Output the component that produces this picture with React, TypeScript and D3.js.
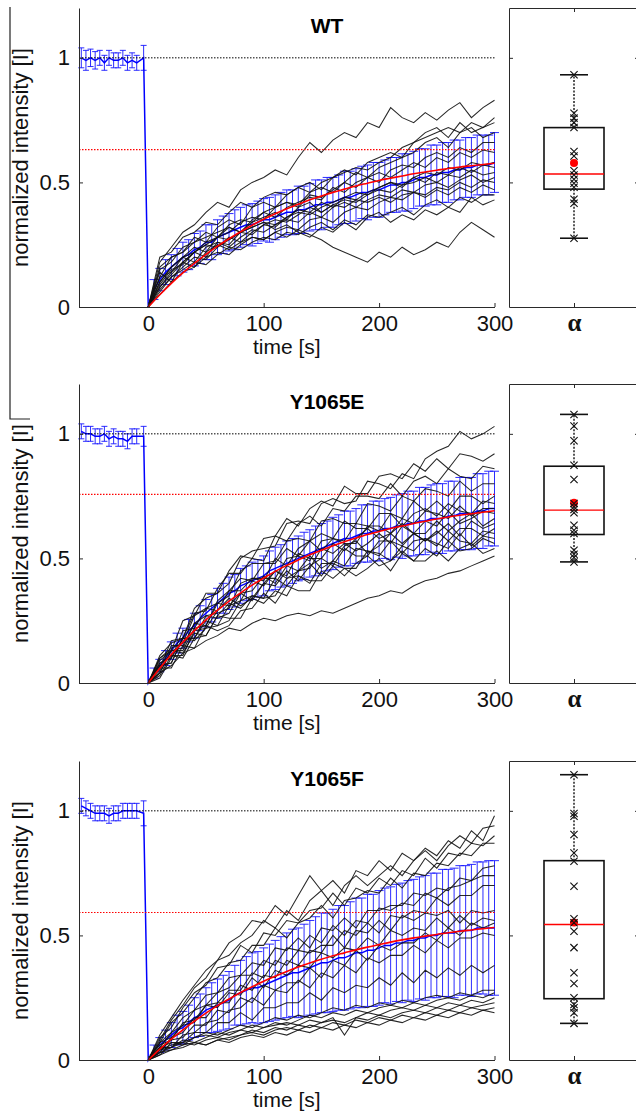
import React, { useRef, useEffect } from 'react';
import * as d3 from 'd3';

// ---- data ----
const panelNames = ['WT', 'Y1065E', 'Y1065F'];

const preTime = [-58, -54, -50, -46, -42, -38, -34, -30, -26, -22, -18, -14, -10, -4];
const postTime = [
  0, 5, 10, 15, 20, 25, 30, 35, 40, 45, 50, 55, 60, 65, 70, 75, 80, 85, 90, 95, 100,
  105, 110, 115, 120, 125, 130, 135, 140, 145, 150, 155, 160, 165, 170, 175, 180, 185, 190, 195, 200,
  205, 210, 215, 220, 225, 230, 235, 240, 245, 250, 255, 260, 265, 270, 275, 280, 285, 290, 295, 300,
];
const traceTime = [
  0, 10, 20, 30, 40, 50, 60, 70, 80, 90, 100, 110, 120, 130, 140, 150,
  160, 170, 180, 190, 200, 210, 220, 230, 240, 250, 260, 270, 280, 290, 300,
];
const xTicks = [0, 100, 200, 300];
const yTicks = [0, 0.5, 1];

// WT
const wtPreMean = [1.0, 0.99, 1.0, 0.99, 1.0, 0.98, 1.0, 0.99, 0.99, 1.0, 0.98, 0.99, 0.98, 1.0];
const wtPreSd = [0.04, 0.04, 0.035, 0.035, 0.03, 0.03, 0.03, 0.03, 0.03, 0.03, 0.03, 0.03, 0.03, 0.05];
const wtMean = [
  0, 0.07, 0.11, 0.14, 0.16, 0.18, 0.2, 0.21, 0.23, 0.24, 0.26,
  0.26, 0.28, 0.29, 0.3, 0.31, 0.32, 0.33, 0.33, 0.34, 0.35,
  0.35, 0.36, 0.37, 0.38, 0.38, 0.39, 0.39, 0.4, 0.41, 0.41,
  0.42, 0.42, 0.43, 0.44, 0.44, 0.45, 0.46, 0.46, 0.47, 0.47,
  0.48, 0.49, 0.49, 0.5, 0.5, 0.51, 0.52, 0.52, 0.53, 0.53,
  0.54, 0.54, 0.55, 0.55, 0.56, 0.56, 0.57, 0.57, 0.57, 0.58,
];
const wtSd = [
  0, 0.04, 0.045, 0.05, 0.05, 0.055, 0.06, 0.06, 0.065, 0.065, 0.07,
  0.07, 0.07, 0.075, 0.075, 0.08, 0.08, 0.08, 0.085, 0.085, 0.085,
  0.09, 0.09, 0.09, 0.09, 0.09, 0.095, 0.095, 0.095, 0.1, 0.1,
  0.1, 0.1, 0.1, 0.105, 0.105, 0.105, 0.105, 0.11, 0.11, 0.11,
  0.11, 0.11, 0.11, 0.115, 0.115, 0.115, 0.115, 0.115, 0.12, 0.12,
  0.12, 0.12, 0.12, 0.12, 0.12, 0.12, 0.12, 0.12, 0.12, 0.12,
];
const wtFit = [
  0, 0.049, 0.095, 0.137, 0.175, 0.211, 0.244, 0.274, 0.302, 0.328, 0.352,
  0.374, 0.394, 0.412, 0.43, 0.445, 0.46, 0.473, 0.486, 0.497, 0.508,
  0.517, 0.526, 0.535, 0.542, 0.549, 0.556, 0.562, 0.567, 0.572, 0.577,
];
const wtPlateau = 0.632;
const wtTraces = [
  [0, 0.18, 0.24, 0.3, 0.33, 0.38, 0.42, 0.4, 0.47, 0.5, 0.52, 0.55, 0.53, 0.6, 0.66, 0.62, 0.67, 0.7, 0.68, 0.74, 0.72, 0.8, 0.76, 0.74, 0.78, 0.75, 0.79, 0.82, 0.76, 0.8, 0.83],
  [0, 0.12, 0.2, 0.22, 0.28, 0.26, 0.32, 0.35, 0.33, 0.4, 0.42, 0.4, 0.45, 0.48, 0.46, 0.5, 0.52, 0.55, 0.53, 0.58, 0.6, 0.62, 0.6, 0.66, 0.68, 0.7, 0.72, 0.7, 0.74, 0.72, 0.76],
  [0, 0.2, 0.22, 0.28, 0.3, 0.34, 0.33, 0.38, 0.42, 0.4, 0.44, 0.46, 0.45, 0.48, 0.5, 0.47, 0.52, 0.54, 0.56, 0.55, 0.58, 0.6, 0.64, 0.66, 0.7, 0.72, 0.68, 0.74, 0.7, 0.72, 0.74],
  [0, 0.08, 0.14, 0.18, 0.22, 0.26, 0.28, 0.3, 0.34, 0.36, 0.35, 0.4, 0.42, 0.41, 0.46, 0.48, 0.46, 0.5, 0.54, 0.52, 0.56, 0.58, 0.6, 0.62, 0.66, 0.68, 0.64, 0.7, 0.72, 0.68, 0.7],
  [0, 0.1, 0.16, 0.2, 0.24, 0.22, 0.28, 0.32, 0.3, 0.35, 0.38, 0.36, 0.4, 0.42, 0.44, 0.43, 0.48, 0.46, 0.5, 0.52, 0.5, 0.55, 0.57, 0.56, 0.6, 0.62, 0.6, 0.64, 0.62, 0.66, 0.66],
  [0, 0.15, 0.18, 0.24, 0.26, 0.3, 0.28, 0.33, 0.35, 0.34, 0.38, 0.4, 0.42, 0.4, 0.45, 0.44, 0.47, 0.5, 0.48, 0.52, 0.54, 0.52, 0.55, 0.58, 0.56, 0.6, 0.58, 0.62, 0.6, 0.63, 0.62],
  [0, 0.06, 0.12, 0.16, 0.2, 0.19, 0.24, 0.28, 0.26, 0.3, 0.33, 0.32, 0.36, 0.38, 0.37, 0.4, 0.42, 0.44, 0.43, 0.46, 0.48, 0.5, 0.49, 0.52, 0.54, 0.53, 0.56, 0.55, 0.58, 0.57, 0.58],
  [0, 0.12, 0.14, 0.2, 0.18, 0.24, 0.26, 0.25, 0.3, 0.32, 0.34, 0.33, 0.36, 0.39, 0.38, 0.42, 0.4, 0.44, 0.46, 0.45, 0.48, 0.5, 0.48, 0.52, 0.5, 0.54, 0.53, 0.56, 0.54, 0.57, 0.56],
  [0, 0.09, 0.15, 0.17, 0.22, 0.25, 0.24, 0.27, 0.3, 0.29, 0.33, 0.35, 0.34, 0.37, 0.4, 0.38, 0.41, 0.43, 0.42, 0.45, 0.47, 0.46, 0.49, 0.5, 0.52, 0.5, 0.53, 0.52, 0.55, 0.53, 0.54],
  [0, 0.14, 0.1, 0.18, 0.22, 0.2, 0.26, 0.24, 0.28, 0.31, 0.3, 0.33, 0.35, 0.34, 0.38, 0.36, 0.4, 0.42, 0.4, 0.43, 0.45, 0.44, 0.47, 0.46, 0.49, 0.5, 0.48, 0.51, 0.53, 0.5, 0.52],
  [0, 0.05, 0.1, 0.14, 0.16, 0.2, 0.22, 0.21, 0.25, 0.28, 0.27, 0.3, 0.32, 0.31, 0.35, 0.36, 0.34, 0.38, 0.4, 0.39, 0.42, 0.44, 0.43, 0.46, 0.45, 0.48, 0.47, 0.5, 0.48, 0.51, 0.5],
  [0, 0.16, 0.2, 0.22, 0.26, 0.28, 0.3, 0.32, 0.3, 0.34, 0.36, 0.38, 0.35, 0.4, 0.42, 0.38, 0.41, 0.4, 0.43, 0.42, 0.44, 0.42, 0.45, 0.46, 0.44, 0.47, 0.45, 0.48, 0.46, 0.49, 0.47],
  [0, 0.07, 0.12, 0.15, 0.18, 0.17, 0.21, 0.24, 0.23, 0.26, 0.28, 0.27, 0.3, 0.29, 0.32, 0.34, 0.31, 0.35, 0.33, 0.37, 0.36, 0.38, 0.4, 0.37, 0.41, 0.43, 0.4, 0.44, 0.42, 0.45, 0.45],
  [0, 0.1, 0.16, 0.2, 0.22, 0.25, 0.28, 0.27, 0.3, 0.32, 0.34, 0.31, 0.33, 0.3, 0.28, 0.32, 0.3, 0.34, 0.31, 0.36, 0.38, 0.34, 0.37, 0.35, 0.39, 0.37, 0.4, 0.38, 0.44, 0.41, 0.43],
  [0, 0.08, 0.13, 0.18, 0.16, 0.22, 0.25, 0.23, 0.26, 0.28, 0.27, 0.3, 0.28, 0.31, 0.29, 0.27, 0.24, 0.22, 0.2, 0.18, 0.22, 0.2, 0.24, 0.21, 0.23, 0.26, 0.24, 0.3, 0.34, 0.31, 0.28],
];
const wtAlpha = [0.932, 0.778, 0.758, 0.74, 0.72, 0.624, 0.606, 0.547, 0.53, 0.513, 0.497, 0.481, 0.432, 0.416, 0.276];
const wtBox = [0.276, 0.473, 0.534, 0.72, 0.932]; // whisker lo, q1, median, q3, whisker hi
const wtAlphaMean = 0.578;

// Y1065E
const ePreMean = [1.01, 1.0, 1.0, 0.99, 0.99, 1.0, 0.98, 0.99, 0.98, 0.98, 0.97, 0.99, 0.99, 0.99];
const ePreSd = [0.03, 0.03, 0.03, 0.03, 0.03, 0.03, 0.03, 0.03, 0.03, 0.03, 0.03, 0.03, 0.03, 0.04];
const eMean = [
  0, 0.04, 0.07, 0.1, 0.13, 0.16, 0.18, 0.21, 0.23, 0.26, 0.28,
  0.3, 0.32, 0.34, 0.36, 0.37, 0.39, 0.4, 0.41, 0.42, 0.43,
  0.45, 0.46, 0.47, 0.48, 0.49, 0.5, 0.51, 0.52, 0.53, 0.54,
  0.55, 0.56, 0.57, 0.58, 0.58, 0.59, 0.6, 0.6, 0.61, 0.61,
  0.62, 0.62, 0.63, 0.63, 0.64, 0.64, 0.65, 0.65, 0.66, 0.66,
  0.66, 0.67, 0.67, 0.68, 0.68, 0.68, 0.69, 0.69, 0.7, 0.7,
];
const eSd = [
  0, 0.02, 0.025, 0.03, 0.035, 0.04, 0.04, 0.045, 0.05, 0.05, 0.055,
  0.055, 0.06, 0.06, 0.065, 0.065, 0.07, 0.07, 0.075, 0.075, 0.08,
  0.08, 0.085, 0.085, 0.09, 0.09, 0.09, 0.095, 0.095, 0.1, 0.1,
  0.1, 0.105, 0.105, 0.11, 0.11, 0.11, 0.115, 0.115, 0.12, 0.12,
  0.12, 0.125, 0.125, 0.13, 0.13, 0.13, 0.135, 0.135, 0.135, 0.14,
  0.14, 0.14, 0.14, 0.145, 0.145, 0.145, 0.15, 0.15, 0.15, 0.15,
];
const eFit = [
  0, 0.059, 0.114, 0.164, 0.21, 0.253, 0.292, 0.329, 0.362, 0.393, 0.421,
  0.448, 0.472, 0.494, 0.515, 0.533, 0.551, 0.567, 0.582, 0.596, 0.608,
  0.62, 0.63, 0.64, 0.649, 0.658, 0.666, 0.673, 0.679, 0.685, 0.691,
];
const ePlateau = 0.757;
const eTraces = [
  [0, 0.11, 0.16, 0.18, 0.3, 0.34, 0.36, 0.4, 0.5, 0.53, 0.54, 0.55, 0.64, 0.65, 0.64, 0.72, 0.74, 0.72, 0.73, 0.81, 0.8, 0.78, 0.84, 0.82, 0.9, 0.93, 0.95, 1.01, 0.98, 1.0, 1.03],
  [0, 0.1, 0.13, 0.25, 0.27, 0.36, 0.36, 0.45, 0.51, 0.5, 0.58, 0.59, 0.66, 0.63, 0.7, 0.73, 0.71, 0.79, 0.76, 0.76, 0.83, 0.84, 0.82, 0.88, 0.85, 0.9, 0.86, 0.92, 0.91, 0.89, 0.92],
  [0, 0.06, 0.17, 0.18, 0.28, 0.29, 0.38, 0.44, 0.44, 0.5, 0.49, 0.59, 0.57, 0.64, 0.67, 0.63, 0.7, 0.69, 0.75, 0.75, 0.74, 0.8, 0.75, 0.81, 0.83, 0.8, 0.86, 0.83, 0.82, 0.87, 0.86],
  [0, 0.1, 0.14, 0.16, 0.27, 0.3, 0.32, 0.35, 0.45, 0.48, 0.48, 0.49, 0.57, 0.58, 0.57, 0.65, 0.66, 0.64, 0.64, 0.72, 0.71, 0.69, 0.75, 0.73, 0.78, 0.77, 0.75, 0.81, 0.77, 0.8, 0.8],
  [0, 0.08, 0.1, 0.21, 0.22, 0.3, 0.29, 0.37, 0.42, 0.41, 0.48, 0.48, 0.54, 0.51, 0.57, 0.6, 0.58, 0.65, 0.62, 0.62, 0.68, 0.68, 0.66, 0.73, 0.69, 0.73, 0.69, 0.75, 0.75, 0.72, 0.75],
  [0, 0.05, 0.15, 0.15, 0.24, 0.23, 0.33, 0.37, 0.37, 0.42, 0.41, 0.5, 0.47, 0.54, 0.57, 0.53, 0.58, 0.57, 0.64, 0.63, 0.61, 0.68, 0.63, 0.68, 0.7, 0.67, 0.72, 0.69, 0.68, 0.73, 0.72],
  [0, 0.09, 0.13, 0.14, 0.24, 0.27, 0.28, 0.3, 0.4, 0.42, 0.42, 0.42, 0.5, 0.51, 0.49, 0.57, 0.58, 0.56, 0.56, 0.63, 0.63, 0.6, 0.66, 0.64, 0.69, 0.68, 0.66, 0.71, 0.67, 0.7, 0.7],
  [0, 0.04, 0.13, 0.13, 0.22, 0.23, 0.32, 0.31, 0.33, 0.41, 0.39, 0.45, 0.43, 0.52, 0.5, 0.5, 0.56, 0.53, 0.58, 0.62, 0.58, 0.6, 0.64, 0.6, 0.65, 0.63, 0.69, 0.64, 0.66, 0.69, 0.68],
  [0, 0.07, 0.08, 0.18, 0.18, 0.27, 0.26, 0.28, 0.36, 0.37, 0.43, 0.4, 0.47, 0.45, 0.46, 0.54, 0.52, 0.56, 0.53, 0.56, 0.6, 0.56, 0.63, 0.6, 0.6, 0.65, 0.61, 0.65, 0.68, 0.63, 0.66],
  [0, 0.02, 0.1, 0.18, 0.17, 0.22, 0.29, 0.34, 0.31, 0.34, 0.4, 0.45, 0.42, 0.45, 0.51, 0.46, 0.49, 0.55, 0.57, 0.52, 0.55, 0.6, 0.56, 0.6, 0.57, 0.6, 0.64, 0.59, 0.65, 0.62, 0.64],
  [0, 0.07, 0.08, 0.18, 0.18, 0.25, 0.23, 0.31, 0.36, 0.33, 0.4, 0.39, 0.45, 0.41, 0.47, 0.5, 0.47, 0.54, 0.51, 0.51, 0.57, 0.57, 0.55, 0.6, 0.57, 0.61, 0.57, 0.62, 0.62, 0.59, 0.62],
  [0, 0.04, 0.13, 0.12, 0.2, 0.19, 0.27, 0.32, 0.3, 0.35, 0.34, 0.42, 0.39, 0.45, 0.48, 0.43, 0.49, 0.47, 0.54, 0.53, 0.51, 0.57, 0.52, 0.57, 0.58, 0.55, 0.61, 0.57, 0.56, 0.61, 0.6],
  [0, 0.08, 0.11, 0.11, 0.21, 0.22, 0.23, 0.25, 0.33, 0.35, 0.34, 0.35, 0.42, 0.43, 0.4, 0.48, 0.48, 0.46, 0.46, 0.53, 0.52, 0.49, 0.55, 0.53, 0.58, 0.56, 0.54, 0.6, 0.55, 0.59, 0.58],
  [0, 0.03, 0.11, 0.1, 0.18, 0.19, 0.27, 0.26, 0.26, 0.34, 0.32, 0.37, 0.35, 0.43, 0.41, 0.41, 0.47, 0.43, 0.48, 0.51, 0.47, 0.49, 0.53, 0.49, 0.54, 0.51, 0.57, 0.53, 0.54, 0.58, 0.56],
  [0, 0.06, 0.06, 0.15, 0.14, 0.23, 0.21, 0.23, 0.29, 0.3, 0.36, 0.32, 0.39, 0.37, 0.37, 0.45, 0.42, 0.46, 0.43, 0.46, 0.5, 0.45, 0.52, 0.49, 0.49, 0.53, 0.49, 0.54, 0.56, 0.52, 0.54],
  [0, 0.04, 0.07, 0.12, 0.14, 0.17, 0.19, 0.22, 0.21, 0.24, 0.26, 0.25, 0.27, 0.28, 0.27, 0.29, 0.28, 0.3, 0.32, 0.34, 0.35, 0.37, 0.36, 0.39, 0.41, 0.42, 0.44, 0.45, 0.47, 0.49, 0.51],
];
const eAlpha = [1.078, 1.031, 0.972, 0.874, 0.817, 0.72, 0.707, 0.696, 0.683, 0.633, 0.613, 0.6, 0.533, 0.517, 0.504, 0.486];
const eBox = [0.486, 0.596, 0.694, 0.87, 1.078];
const eAlphaMean = 0.723;

// Y1065F
const fPreMean = [1.02, 1.01, 1.0, 0.99, 0.99, 0.99, 0.98, 0.99, 0.99, 1.0, 1.0, 1.0, 1.0, 0.99];
const fPreSd = [0.03, 0.03, 0.03, 0.03, 0.03, 0.03, 0.03, 0.03, 0.03, 0.03, 0.03, 0.03, 0.03, 0.05];
const fMean = [
  0, 0.04, 0.06, 0.08, 0.1, 0.12, 0.13, 0.15, 0.17, 0.18, 0.2,
  0.21, 0.22, 0.23, 0.24, 0.26, 0.27, 0.28, 0.29, 0.29, 0.3,
  0.31, 0.32, 0.33, 0.34, 0.35, 0.35, 0.36, 0.37, 0.38, 0.39,
  0.39, 0.4, 0.41, 0.41, 0.42, 0.43, 0.43, 0.44, 0.44, 0.45,
  0.46, 0.46, 0.47, 0.47, 0.48, 0.48, 0.49, 0.49, 0.5, 0.5,
  0.51, 0.51, 0.51, 0.52, 0.52, 0.52, 0.53, 0.53, 0.53, 0.53,
];
const fSd = [
  0, 0.02, 0.03, 0.04, 0.05, 0.06, 0.065, 0.07, 0.08, 0.085, 0.09,
  0.1, 0.105, 0.11, 0.115, 0.12, 0.13, 0.135, 0.14, 0.145, 0.15,
  0.155, 0.16, 0.165, 0.17, 0.175, 0.18, 0.185, 0.19, 0.195, 0.2,
  0.2, 0.205, 0.21, 0.21, 0.215, 0.22, 0.22, 0.225, 0.225, 0.23,
  0.23, 0.235, 0.235, 0.24, 0.24, 0.245, 0.245, 0.25, 0.25, 0.25,
  0.255, 0.255, 0.26, 0.26, 0.26, 0.265, 0.265, 0.265, 0.27, 0.27,
];
const fFit = [
  0, 0.044, 0.084, 0.121, 0.156, 0.188, 0.218, 0.245, 0.271, 0.294, 0.316,
  0.336, 0.355, 0.373, 0.389, 0.404, 0.418, 0.43, 0.442, 0.453, 0.463,
  0.473, 0.482, 0.49, 0.497, 0.504, 0.511, 0.517, 0.522, 0.527, 0.532,
];
const fPlateau = 0.592;
const fTraces = [
  [0, 0.1, 0.17, 0.24, 0.3, 0.36, 0.4, 0.47, 0.5, 0.56, 0.55, 0.62, 0.58, 0.66, 0.74, 0.68, 0.72, 0.67, 0.76, 0.74, 0.8, 0.76, 0.83, 0.8, 0.85, 0.82, 0.88, 0.85, 0.92, 0.88, 0.98],
  [0, 0.08, 0.16, 0.22, 0.29, 0.33, 0.4, 0.42, 0.47, 0.5, 0.56, 0.53, 0.6, 0.56, 0.64, 0.68, 0.62, 0.7, 0.74, 0.7, 0.74, 0.78, 0.74, 0.8, 0.84, 0.8, 0.86, 0.9, 0.87, 0.93, 0.94],
  [0, 0.09, 0.13, 0.21, 0.27, 0.3, 0.37, 0.38, 0.46, 0.43, 0.51, 0.5, 0.56, 0.55, 0.6, 0.61, 0.67, 0.62, 0.69, 0.67, 0.73, 0.7, 0.76, 0.74, 0.81, 0.77, 0.83, 0.82, 0.87, 0.86, 0.9],
  [0, 0.07, 0.15, 0.19, 0.25, 0.31, 0.33, 0.39, 0.4, 0.46, 0.46, 0.53, 0.49, 0.55, 0.57, 0.62, 0.57, 0.64, 0.65, 0.68, 0.67, 0.73, 0.69, 0.75, 0.74, 0.79, 0.78, 0.83, 0.82, 0.87, 0.87],
  [0, 0.07, 0.11, 0.17, 0.2, 0.26, 0.27, 0.33, 0.34, 0.39, 0.38, 0.45, 0.44, 0.49, 0.45, 0.53, 0.52, 0.57, 0.53, 0.6, 0.6, 0.62, 0.62, 0.67, 0.66, 0.69, 0.68, 0.73, 0.72, 0.77, 0.78],
  [0, 0.05, 0.11, 0.14, 0.2, 0.22, 0.27, 0.29, 0.34, 0.34, 0.4, 0.38, 0.45, 0.44, 0.5, 0.47, 0.54, 0.5, 0.56, 0.55, 0.61, 0.6, 0.63, 0.62, 0.67, 0.65, 0.69, 0.7, 0.72, 0.74, 0.74],
  [0, 0.06, 0.08, 0.15, 0.16, 0.22, 0.23, 0.28, 0.28, 0.35, 0.33, 0.4, 0.38, 0.44, 0.43, 0.46, 0.46, 0.52, 0.5, 0.55, 0.51, 0.58, 0.57, 0.6, 0.59, 0.65, 0.62, 0.66, 0.66, 0.7, 0.7],
  [0, 0.03, 0.09, 0.11, 0.17, 0.17, 0.23, 0.23, 0.3, 0.28, 0.34, 0.33, 0.4, 0.38, 0.44, 0.43, 0.5, 0.45, 0.52, 0.51, 0.56, 0.52, 0.58, 0.56, 0.59, 0.58, 0.6, 0.55, 0.6, 0.59, 0.6],
  [0, 0.07, 0.09, 0.14, 0.15, 0.22, 0.21, 0.27, 0.26, 0.33, 0.29, 0.36, 0.34, 0.38, 0.37, 0.43, 0.41, 0.45, 0.44, 0.49, 0.46, 0.52, 0.5, 0.53, 0.52, 0.57, 0.53, 0.58, 0.54, 0.57, 0.56],
  [0, 0.04, 0.08, 0.09, 0.14, 0.14, 0.2, 0.19, 0.25, 0.23, 0.3, 0.28, 0.31, 0.31, 0.37, 0.33, 0.4, 0.38, 0.44, 0.4, 0.46, 0.44, 0.47, 0.47, 0.51, 0.48, 0.53, 0.5, 0.55, 0.53, 0.55],
  [0, 0.05, 0.05, 0.1, 0.11, 0.15, 0.16, 0.2, 0.21, 0.25, 0.22, 0.28, 0.27, 0.32, 0.29, 0.35, 0.33, 0.38, 0.35, 0.41, 0.39, 0.42, 0.42, 0.46, 0.43, 0.48, 0.45, 0.49, 0.49, 0.51, 0.5],
  [0, 0.02, 0.07, 0.07, 0.11, 0.11, 0.15, 0.15, 0.19, 0.16, 0.21, 0.21, 0.23, 0.23, 0.27, 0.24, 0.29, 0.27, 0.3, 0.29, 0.33, 0.3, 0.35, 0.31, 0.36, 0.33, 0.37, 0.34, 0.38, 0.35, 0.38],
  [0, 0.04, 0.06, 0.07, 0.09, 0.11, 0.1, 0.12, 0.14, 0.13, 0.15, 0.17, 0.16, 0.18, 0.17, 0.19, 0.21, 0.2, 0.22, 0.21, 0.23, 0.22, 0.24, 0.23, 0.25, 0.26, 0.25, 0.27, 0.26, 0.28, 0.28],
  [0, 0.03, 0.05, 0.08, 0.07, 0.09, 0.11, 0.1, 0.12, 0.14, 0.13, 0.15, 0.14, 0.16, 0.18, 0.17, 0.19, 0.18, 0.2, 0.19, 0.21, 0.22, 0.21, 0.23, 0.22, 0.24, 0.25, 0.24, 0.26, 0.25, 0.27],
  [0, 0.05, 0.07, 0.06, 0.09, 0.1, 0.09, 0.11, 0.12, 0.11, 0.13, 0.14, 0.15, 0.14, 0.16, 0.15, 0.17, 0.1, 0.17, 0.19, 0.18, 0.2, 0.21, 0.2, 0.22, 0.21, 0.23, 0.22, 0.24, 0.23, 0.25],
  [0, 0.02, 0.04, 0.06, 0.07, 0.06, 0.08, 0.09, 0.1, 0.12, 0.11, 0.13, 0.12, 0.14, 0.13, 0.15, 0.16, 0.15, 0.17, 0.16, 0.18, 0.17, 0.19, 0.2, 0.19, 0.21, 0.2, 0.22, 0.21, 0.22, 0.23],
  [0, 0.04, 0.05, 0.07, 0.06, 0.08, 0.09, 0.08, 0.1, 0.11, 0.1, 0.12, 0.13, 0.12, 0.14, 0.13, 0.15, 0.14, 0.16, 0.15, 0.17, 0.16, 0.18, 0.17, 0.19, 0.18, 0.2, 0.19, 0.21, 0.2, 0.21],
  [0, 0.03, 0.04, 0.05, 0.07, 0.06, 0.08, 0.07, 0.09, 0.1, 0.09, 0.11, 0.1, 0.12, 0.11, 0.13, 0.12, 0.14, 0.13, 0.15, 0.14, 0.16, 0.15, 0.17, 0.16, 0.18, 0.17, 0.19, 0.18, 0.2, 0.19],
];
const fAlpha = [1.145, 0.989, 0.978, 0.905, 0.831, 0.798, 0.697, 0.567, 0.551, 0.517, 0.451, 0.35, 0.307, 0.25, 0.223, 0.21, 0.19, 0.147];
const fBox = [0.147, 0.246, 0.544, 0.8, 1.145];
const fAlphaMean = 0.552;

// ---- layout ----
const W = 636;
const H = 1112;
const panelTops = [8, 384, 761];
const plotH = 299;
const plotLeft = 79;
const plotRight = 494.5;
const boxLeft = 509;
const boxRight = 639;
const font = '"Liberation Sans", Arial, Helvetica, sans-serif';
const axisColor = '#2a2a2a';

const panels = [
  { name: panelNames[0], preMean: wtPreMean, preSd: wtPreSd, mean: wtMean, sd: wtSd, fit: wtFit, plateau: wtPlateau, traces: wtTraces, alpha: wtAlpha, box: wtBox, alphaMean: wtAlphaMean },
  { name: panelNames[1], preMean: ePreMean, preSd: ePreSd, mean: eMean, sd: eSd, fit: eFit, plateau: ePlateau, traces: eTraces, alpha: eAlpha, box: eBox, alphaMean: eAlphaMean },
  { name: panelNames[2], preMean: fPreMean, preSd: fPreSd, mean: fMean, sd: fSd, fit: fFit, plateau: fPlateau, traces: fTraces, alpha: fAlpha, box: fBox, alphaMean: fAlphaMean },
];

const App = () => {
  const svgRef = useRef<SVGSVGElement>(null);

  useEffect(() => {
    const svg = d3.select(svgRef.current);
    svg.selectAll('*').remove();

    // stray frame line on the left edge of the figure
    svg.append('path')
      .attr('d', 'M10,7V419H30')
      .attr('fill', 'none')
      .attr('stroke', '#222')
      .attr('stroke-width', 1.2);

    const x = d3.scaleLinear().domain([-60, 300]).range([plotLeft, plotRight]);

    panels.forEach((p, i) => {
      const top = panelTops[i];
      const bottom = top + plotH;
      const y = d3.scaleLinear().domain([0, 1.2]).range([bottom, top]);
      const g = svg.append('g');

      // blue mean +- sd
      const bars = [
        ...preTime.map((t, k) => ({ t, m: p.preMean[k], s: p.preSd[k], cap: 3 })),
        ...postTime.map((t, k) => ({ t, m: p.mean[k], s: p.sd[k], cap: 4.5 })),
      ];
      g.append('g')
        .selectAll('path')
        .data(bars.filter(d => d.s > 0))
        .join('path')
        .attr('d', d => {
          const cx = x(d.t);
          const y1 = y(d.m + d.s);
          const y0 = y(d.m - d.s);
          return `M${cx - d.cap},${y1}H${cx + d.cap}M${cx},${y1}V${y0}M${cx - d.cap},${y0}H${cx + d.cap}`;
        })
        .attr('fill', 'none')
        .attr('stroke', '#1414ff')
        .attr('stroke-width', 0.9);

      const meanLine = d3.line<{ t: number; m: number }>()
        .x(d => x(d.t))
        .y(d => y(d.m));
      g.append('path')
        .datum(bars)
        .attr('d', meanLine)
        .attr('fill', 'none')
        .attr('stroke', '#0000ff')
        .attr('stroke-width', 1.5);

      // individual cells
      const traceLine = d3.line<number>()
        .x((_, k) => x(traceTime[k]))
        .y(v => y(v));
      g.append('g')
        .selectAll('path')
        .data(p.traces)
        .join('path')
        .attr('d', d => traceLine(d.slice(0, traceTime.length)))
        .attr('fill', 'none')
        .attr('stroke', '#111')
        .attr('stroke-opacity', 0.9)
        .attr('stroke-width', 1.05);

      // reference levels
      g.append('line')
        .attr('x1', x(-60)).attr('x2', x(300))
        .attr('y1', y(1)).attr('y2', y(1))
        .attr('stroke', '#000')
        .attr('stroke-width', 1)
        .attr('stroke-dasharray', '1.5,1.5');
      g.append('line')
        .attr('x1', x(-60)).attr('x2', x(300))
        .attr('y1', y(p.plateau)).attr('y2', y(p.plateau))
        .attr('stroke', '#ff0000')
        .attr('stroke-width', 1.2)
        .attr('stroke-dasharray', '1.5,1.5');

      // fit
      const fitLine = d3.line<number>()
        .x((_, k) => x(traceTime[k]))
        .y(v => y(v))
        .curve(d3.curveMonotoneX);
      g.append('path')
        .datum(p.fit)
        .attr('d', fitLine)
        .attr('fill', 'none')
        .attr('stroke', '#ff0000')
        .attr('stroke-width', 1.6);

      // axes
      const xAxis = d3.axisBottom(x)
        .tickValues(xTicks)
        .tickSize(-4)
        .tickSizeOuter(0)
        .tickPadding(8);
      const gx = g.append('g')
        .attr('transform', `translate(0,${bottom})`)
        .attr('color', axisColor)
        .call(xAxis);
      gx.selectAll('text')
        .style('font-family', font)
        .style('font-size', '22px')
        .attr('fill', '#111');

      const yAxis = d3.axisLeft(y)
        .tickValues(yTicks)
        .tickFormat(d => (d === 0.5 ? '0.5' : String(d)))
        .tickSize(-4)
        .tickSizeOuter(0)
        .tickPadding(9);
      const gy = g.append('g')
        .attr('transform', `translate(${plotLeft},0)`)
        .attr('color', axisColor)
        .call(yAxis);
      gy.selectAll('text')
        .style('font-family', font)
        .style('font-size', '22px')
        .attr('fill', '#111');

      g.append('text')
        .attr('x', (plotLeft + plotRight) / 2)
        .attr('y', bottom + 47)
        .attr('text-anchor', 'middle')
        .style('font-family', font)
        .style('font-size', '21px')
        .attr('fill', '#111')
        .text('time [s]');

      g.append('text')
        .attr('transform', `translate(28,${(top + bottom) / 2}) rotate(-90)`)
        .attr('text-anchor', 'middle')
        .style('font-family', font)
        .style('font-size', '22px')
        .attr('fill', '#111')
        .text('normalized intensity [I]');

      g.append('text')
        .attr('x', 327)
        .attr('y', top + 25)
        .attr('text-anchor', 'middle')
        .style('font-family', font)
        .style('font-size', '21px')
        .style('font-weight', 'bold')
        .attr('fill', '#000')
        .text(p.name);

      // box plot panel
      const bx = d3.scalePoint<string>().domain(['α']).range([boxLeft, boxRight]).padding(0.5);
      const cx = bx('α') as number;
      const gb = g.append('g').attr('color', axisColor);
      gb.append('g')
        .attr('transform', `translate(0,${bottom})`)
        .call(d3.axisBottom(bx).tickSize(-4).tickSizeOuter(0).tickPadding(6))
        .selectAll('text')
        .style('font-family', '"Liberation Serif", "Times New Roman", serif')
        .style('font-size', '25px')
        .style('font-weight', 'bold')
        .attr('fill', '#111');
      gb.append('g')
        .attr('transform', `translate(0,${top})`)
        .call(d3.axisTop(bx).tickSize(-4).tickSizeOuter(0).tickFormat(() => ''));
      gb.append('g')
        .attr('transform', `translate(${boxLeft},0)`)
        .call(d3.axisLeft(y).tickValues([0.5, 1]).tickSize(-4).tickSizeOuter(0).tickFormat(() => ''));
      gb.append('g')
        .attr('transform', `translate(${boxRight},0)`)
        .call(d3.axisRight(y).tickValues([0.5, 1]).tickSize(-4).tickSizeOuter(0).tickFormat(() => ''));

      const [wLo, q1, med, q3, wHi] = p.box;
      const boxHalf = 30;
      const capHalf = 14;
      gb.append('line')
        .attr('x1', cx).attr('x2', cx)
        .attr('y1', y(q3)).attr('y2', y(wHi))
        .attr('stroke', '#111').attr('stroke-width', 1.4).attr('stroke-dasharray', '2,1.5');
      gb.append('line')
        .attr('x1', cx).attr('x2', cx)
        .attr('y1', y(q1)).attr('y2', y(wLo))
        .attr('stroke', '#111').attr('stroke-width', 1.4).attr('stroke-dasharray', '2,1.5');
      [wLo, wHi].forEach(v => {
        gb.append('line')
          .attr('x1', cx - capHalf).attr('x2', cx + capHalf)
          .attr('y1', y(v)).attr('y2', y(v))
          .attr('stroke', '#111').attr('stroke-width', 1.6);
      });
      gb.append('rect')
        .attr('x', cx - boxHalf)
        .attr('y', y(q3))
        .attr('width', boxHalf * 2)
        .attr('height', y(q1) - y(q3))
        .attr('fill', 'none')
        .attr('stroke', '#111')
        .attr('stroke-width', 1.6);
      gb.append('line')
        .attr('x1', cx - boxHalf).attr('x2', cx + boxHalf)
        .attr('y1', y(med)).attr('y2', y(med))
        .attr('stroke', '#ff0000').attr('stroke-width', 1.4);

      gb.append('circle')
        .attr('cx', cx)
        .attr('cy', y(p.alphaMean))
        .attr('r', 4)
        .attr('fill', '#ff0000');

      const cross = d3.symbol(d3.symbolX, 36);
      gb.append('g')
        .selectAll('path')
        .data(p.alpha)
        .join('path')
        .attr('transform', d => `translate(${cx},${y(d)})`)
        .attr('d', cross)
        .attr('fill', 'none')
        .attr('stroke', '#111')
        .attr('stroke-width', 1.1);
    });
  }, []);

  return (
    <div style={{ position: 'absolute', left: 0, top: 0, width: W, height: H, background: '#fff' }}>
      <svg ref={svgRef} width={W} height={H} style={{ display: 'block' }}></svg>
    </div>
  );
};

export default App;
